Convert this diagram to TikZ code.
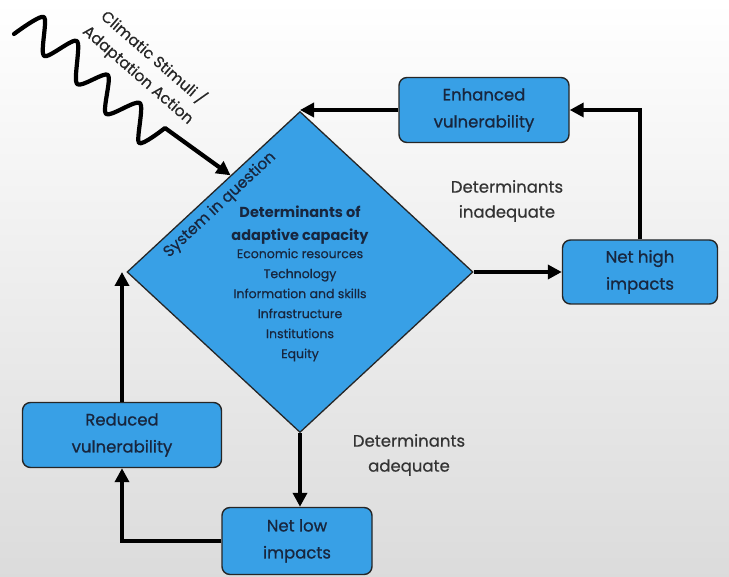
\documentclass[tikz,border=0pt]{standalone}
\usepackage{fontspec}
\setmainfont{Poppins}
\newfontfamily\boxfont{Poppins}[FakeBold=0.9]
\newfontfamily\listfont{Poppins}[FakeBold=0.5]
\usetikzlibrary{shapes.geometric, arrows.meta, calc}

\definecolor{boxblue}{RGB}{56,160,230}
\definecolor{ink}{RGB}{24,38,62}

\begin{document}
\begin{tikzpicture}[x=1pt, y=-1pt,
	box/.style={draw=black!85, line width=1.4pt, fill=boxblue, rounded corners=8pt,
		text=ink, align=center, inner sep=0pt, font=\boxfont\fontsize{16.5}{27}\selectfont},
	flow/.style={line width=3.8pt, -{Triangle[length=14pt, width=14pt]}},
	lbl/.style={align=center, text=black!80, font=\listfont\fontsize{16.5}{25}\selectfont}]

	% backdrop
	\useasboundingbox (0,0) rectangle (729,577);
	\shade[top color=white, bottom color=black!14] (0,0) rectangle (729,577);

	% the system and its determinants
	\node[diamond, draw=black!85, line width=1.3pt, fill=boxblue, inner sep=0pt,
		minimum width=346pt, minimum height=321pt] (sys) at (300,272) {};
	\node[align=center, text=ink, font=\bfseries\fontsize{14.5}{23}\selectfont] (dac) at (300,225)
		{Determinants of\\adaptive capacity};
	\node[align=center, text=ink, font=\listfont\fontsize{12.5}{20}\selectfont] (dlist) at (300,305)
		{Economic resources\\Technology\\Information and skills\\Infrastructure\\Institutions\\Equity};
	\node[rotate=43, text=ink, font=\listfont\fontsize{15.5}{18}\selectfont] (sysq) at (220,205) {System in question};

	% outcomes
	\node[box, minimum width=170pt, minimum height=65pt] (enh) at (484,110) {Enhanced\\vulnerability};
	\node[box, minimum width=155pt, minimum height=64pt] (high) at (640,272) {Net high\\impacts};
	\node[box, minimum width=199pt, minimum height=65pt] (red) at (122,435) {Reduced\\vulnerability};
	\node[box, minimum width=150pt, minimum height=67pt] (low) at (297,541) {Net low\\impacts};

	\node[lbl] (inad) at (507,201) {Determinants\\inadequate};
	\node[lbl] (adeq) at (409,455) {Determinants\\adequate};

	% loops
	\draw[flow] (sys.east) -- (high.west);
	\draw[flow] (high.north) |- (enh.east);
	\draw[flow] (enh.west) -- (enh.west -| sys.north);
	\draw[flow] (sys.south) -- (sys.south |- low.north);
	\draw[flow] (low.west) -| (red.south);
	\draw[flow] (red.north) -- (red.north |- sys.west);

	% stimulus coming in (wavy)
	\coordinate (wstart) at (14,34);
	\coordinate (wend) at ($(sys.west)!0.6!(sys.north)$);
	\draw[flow, line width=4.2pt, line join=round, line cap=round] plot[smooth, tension=0.45] coordinates {(wstart)
		(44,17) (44,56) (77,41) (77,84) (108,75) (106,114) (140,103) (139,143) (165,128)} -- (wend);
	\node[rotate=-41, align=center, text=black!85, font=\listfont\fontsize{15.5}{23}\selectfont] (stim) at (146,66)
		{Climatic Stimuli /\\Adaptation Action};
\end{tikzpicture}
\end{document}
